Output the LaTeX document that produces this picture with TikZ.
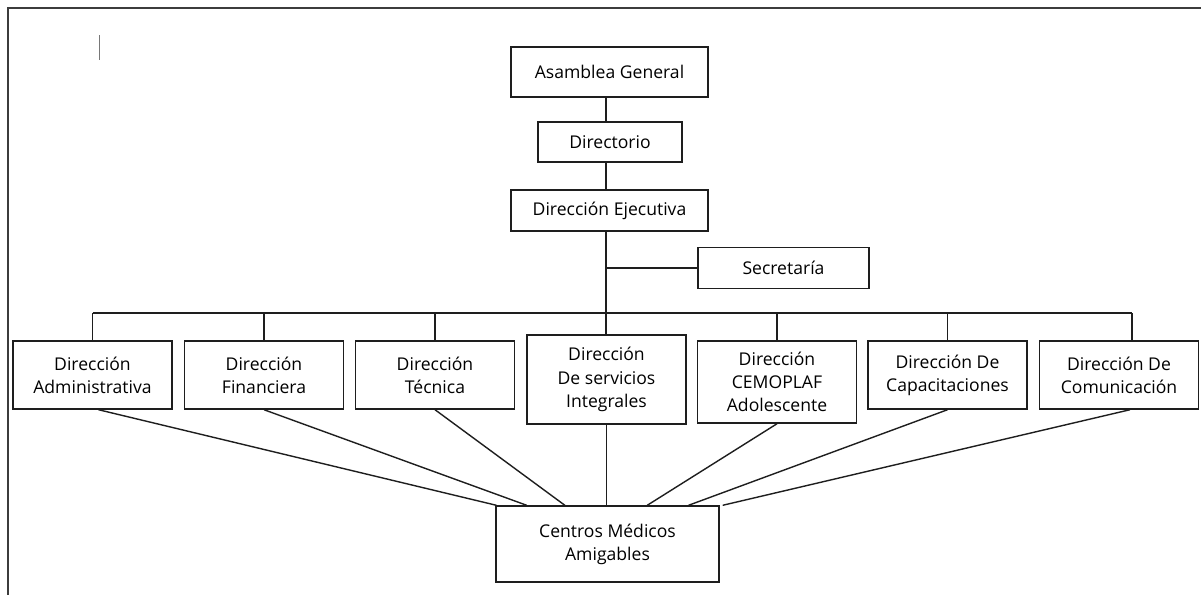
\documentclass[tikz,border=0pt]{standalone}
\usepackage{fontspec}
\setmainfont{Open Sans}
\usetikzlibrary{positioning,calc}
\definecolor{orgline}{RGB}{30,30,30}
\definecolor{framegray}{RGB}{60,60,60}
\definecolor{cursorgray}{RGB}{120,120,120}
\tikzset{
  orgbox/.style={draw=orgline, line width=1pt, fill=white, align=center,
                 inner sep=2pt, minimum width=3.975cm, minimum height=1.7cm,
                 font=\fontsize{12.5}{16.5}\selectfont},
  link/.style={draw=orgline, line width=1pt},
}

\begin{document}
\begin{tikzpicture}[x=0.025cm, y=-0.025cm]
    \useasboundingbox (0,0) rectangle (1201,595);
    % page frame and stray cursor mark
    \draw[framegray, line width=1.3pt] (1201,8) -- (8,8) -- (8,595);
    \draw[cursorgray, line width=0.5pt] (99,35) -- (99,60);

    % top of the chart
    \coordinate (spine) at (606,0);
    \coordinate (bus) at (0,313);
    \node[orgbox, minimum width=4.925cm, minimum height=1.25cm] (ag) at (609.5,72) {Asamblea General};
    \node[orgbox, minimum width=3.6cm, minimum height=1.0cm] (dir) at (610,142) {Directorio};
    \node[orgbox, minimum width=4.925cm, minimum height=1.025cm] (de) at (609.5,210.5) {Dirección Ejecutiva};
    \node[orgbox, minimum width=4.275cm, minimum height=1.025cm] (sec) at (783.5,268) {Secretaría};

    % directions
    \node[orgbox] (adm) at (92.5,375) {Dirección\\ Administrativa};
    \node[orgbox] (fin) at (264,375) {Dirección\\ Financiera};
    \node[orgbox] (tec) at (435,375) {Dirección\\ Técnica};
    \node[orgbox, minimum height=2.225cm] (ser) at (606.5,379.5) {Dirección\\ De servicios\\ Integrales};
    \node[orgbox, minimum height=2.05cm] (cem) at (777,382) {Dirección\\ CEMOPLAF\\ Adolescente};
    \node[orgbox] (cap) at (947.5,375) {Dirección De\\ Capacitaciones};
    \node[orgbox] (com) at (1119,375) {Dirección De\\ Comunicación};

    \node[orgbox, minimum width=5.575cm, minimum height=1.9cm] (cma) at (607.5,544) {Centros Médicos\\ Amigables};

    % connectors
    \draw[link] (ag.south -| spine) -- (dir.north -| spine);
    \draw[link] (dir.south -| spine) -- (de.north -| spine);
    \draw[link] (de.south -| spine) -- (ser.north -| spine);
    \draw[link] (sec.west -| spine) -- (sec.west);
    \coordinate (comtop) at ($(com.north)+(13,0)$);
    \coordinate (combot) at ($(com.south)+(11,0)$);
    \coordinate (admbot) at ($(adm.south)+(6,0)$);
    \draw[link] (adm.north |- bus) -- (comtop |- bus);
    \foreach \n in {adm,fin,tec,cem,cap}
      \draw[link] (\n.north) -- (\n.north |- bus);
    \draw[link] (comtop) -- (comtop |- bus);

    \foreach \n/\f in {admbot/0.005,fin.south/0.14,tec.south/0.31,cem.south/0.677,cap.south/0.861,combot/1.013}
      \draw[link] (\n) -- ($(cma.north west)!\f!(cma.north east)$);
    \draw[link] (ser.south) -- (ser.south |- cma.north);
  \end{tikzpicture}
\end{document}
